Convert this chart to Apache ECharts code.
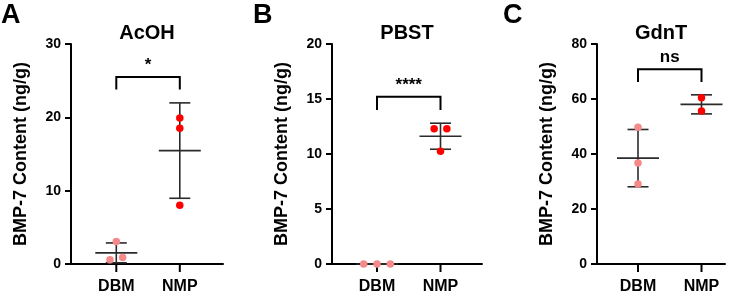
<!DOCTYPE html>
<html><head><meta charset="utf-8">
<script src="https://cdn.jsdelivr.net/npm/echarts@6/dist/echarts.min.js"></script>
<style>html,body{margin:0;padding:0;background:#fff}#c{width:746px;height:295px}</style>
</head><body><div id="c"></div>
<script>
// ---- data ----
const categories = ['DBM', 'NMP'];
const panelLetters = ['A', 'B', 'C'];
const panelTitles = ['AcOH', 'PBST', 'GdnT'];
const yMax = [30, 20, 80];
const yInterval = [10, 5, 20];
const yAxisName = 'BMP-7 Content (ng/g)';
// replicate values (ng/g)
const acohDBM = [3.07, 0.58, 0.9];
const acohNMP = [19.9, 18.5, 8.0];
const pbstDBM = [0, 0, 0];
const pbstNMP = [12.3, 12.3, 10.25];
const gdntDBM = [49.7, 36.7, 29.1];
const gdntNMP = [60.5, 55.6];
// horizontal jitter of replicate dots (category units)
const acohDBMJitter = [0, -0.1, 0.1];
const acohNMPJitter = [0, 0, 0];
const pbstDBMJitter = [-0.21, 0, 0.21];
const pbstNMPJitter = [-0.1, 0.1, 0];
const gdntDBMJitter = [0, 0, 0];
const gdntNMPJitter = [0, 0];
// significance brackets: [top, foot] in data units and label
const bracketTop = [25.5, 15.2, 70.8];
const bracketFoot = [23.8, 14.0, 66.2];
const sigLabels = ['*', '****', 'ns'];

const groups = [[acohDBM, acohNMP], [pbstDBM, pbstNMP], [gdntDBM, gdntNMP]];
const jitters = [[acohDBMJitter, acohNMPJitter], [pbstDBMJitter, pbstNMPJitter], [gdntDBMJitter, gdntNMPJitter]];

// ---- layout / style ----
const FONT = 'Liberation Sans, Arial, sans-serif';
const grids = [
  {left: 71, top: 44, width: 152, height: 222},
  {left: 332, top: 44, width: 150, height: 222},
  {left: 597, top: 44, width: 128, height: 222}
];
const PX_PER_CAT = 63.5;
const firstOffset = [45.3, 45, 41];
const letterLeft = [1, 253, 503];
const dotColors = ['#F58A8A', '#FF0000'];

function mean(a){return a.reduce((s,v)=>s+v,0)/a.length;}
function sd(a){const m=mean(a);return Math.sqrt(a.reduce((s,v)=>s+(v-m)*(v-m),0)/(a.length-1));}

const option = {
  animation: false,
  backgroundColor: '#fff',
  title: [],
  grid: grids.map(g => Object.assign({containLabel: false}, g)),
  xAxis: [], yAxis: [], series: []
};

grids.forEach((g, i) => {
  option.title.push({
    text: panelLetters[i], left: letterLeft[i], top: 2, padding: 0,
    textStyle: {fontFamily: FONT, fontWeight: 'bold', fontSize: 27, color: '#000'}
  });
  option.title.push({
    text: panelTitles[i], left: g.left + g.width / 2, top: 23, padding: 0, textAlign: 'center',
    textStyle: {fontFamily: FONT, fontWeight: 'bold', fontSize: 20, color: '#000'}
  });
  const xmin = -firstOffset[i] / PX_PER_CAT;
  option.xAxis.push({
    type: 'value', gridIndex: i, min: xmin, max: xmin + g.width / PX_PER_CAT,
    axisLine: {show: true, onZero: false, lineStyle: {color: '#000', width: 2}},
    axisTick: {show: false},
    axisLabel: {customValues: [0, 1], formatter: v => categories[Math.round(v)], margin: 15,
      fontFamily: FONT, fontWeight: 'bold', fontSize: 16, color: '#000'},
    splitLine: {show: false}
  });
  option.yAxis.push({
    type: 'value', gridIndex: i, min: 0, max: yMax[i], interval: yInterval[i],
    name: yAxisName, nameLocation: 'middle', nameGap: 41,
    nameTextStyle: {fontFamily: FONT, fontWeight: 'bold', fontSize: 18, color: '#000'},
    axisLine: {show: true, onZero: false, lineStyle: {color: '#000', width: 2}},
    axisTick: {show: true, length: 6, lineStyle: {color: '#000', width: 2}},
    axisLabel: {margin: 10, fontFamily: FONT, fontWeight: 'bold', fontSize: 14, color: '#000'},
    splitLine: {show: false}
  });
  // mean +/- SD, plus category tick marks on the x axis
  const stats = groups[i].map((arr, k) => [k, mean(arr), sd(arr)]);
  option.series.push({
    type: 'custom', xAxisIndex: i, yAxisIndex: i, data: stats, z: 2, clip: false,
    renderItem: (params, api) => {
      const x = api.value(0), m = api.value(1), s = api.value(2);
      const pm = api.coord([x, m]), pt = api.coord([x, m + s]), pb = api.coord([x, m - s]);
      const p0 = api.coord([x, 0]);
      const st = {stroke: '#2b2b2b', lineWidth: 1.6};
      return {type: 'group', children: [
        {type: 'line', shape: {x1: p0[0], y1: p0[1], x2: p0[0], y2: p0[1] + 8}, style: {stroke: '#000', lineWidth: 2}},
        {type: 'line', shape: {x1: pm[0] - 21, y1: pm[1], x2: pm[0] + 21, y2: pm[1]}, style: st},
        {type: 'line', shape: {x1: pt[0], y1: pt[1], x2: pb[0], y2: pb[1]}, style: st},
        {type: 'line', shape: {x1: pt[0] - 10.5, y1: pt[1], x2: pt[0] + 10.5, y2: pt[1]}, style: st},
        {type: 'line', shape: {x1: pb[0] - 10.5, y1: pb[1], x2: pb[0] + 10.5, y2: pb[1]}, style: st}
      ]};
    }
  });
  // replicate dots
  groups[i].forEach((arr, k) => {
    option.series.push({
      type: 'scatter', xAxisIndex: i, yAxisIndex: i, clip: false, z: 3,
      symbol: 'circle', symbolSize: 7.5,
      itemStyle: {color: dotColors[k], opacity: 1},
      data: arr.map((v, j) => [k + jitters[i][k][j], v])
    });
  });
  // significance bracket
  option.series.push({
    type: 'custom', xAxisIndex: i, yAxisIndex: i, clip: false, z: 4,
    data: [[0, 1, bracketTop[i], bracketFoot[i]]],
    renderItem: (params, api) => {
      const a = api.coord([api.value(0), api.value(2)]);
      const b = api.coord([api.value(1), api.value(2)]);
      const fa = api.coord([api.value(0), api.value(3)]);
      return {type: 'group', children: [
        {type: 'polyline', shape: {points: [[a[0], fa[1]], a, b, [b[0], fa[1]]]},
          style: {stroke: '#000', lineWidth: 2, fill: null}},
        {type: 'text', x: (a[0] + b[0]) / 2, y: a[1] - 3,
          style: {text: sigLabels[i], align: 'center', verticalAlign: 'bottom',
            font: 'bold 17px ' + FONT, fill: '#000'}}
      ]};
    }
  });
});

const chart = echarts.init(document.getElementById('c'), null, {renderer: 'canvas'});
chart.setOption(option);
</script></body></html>
